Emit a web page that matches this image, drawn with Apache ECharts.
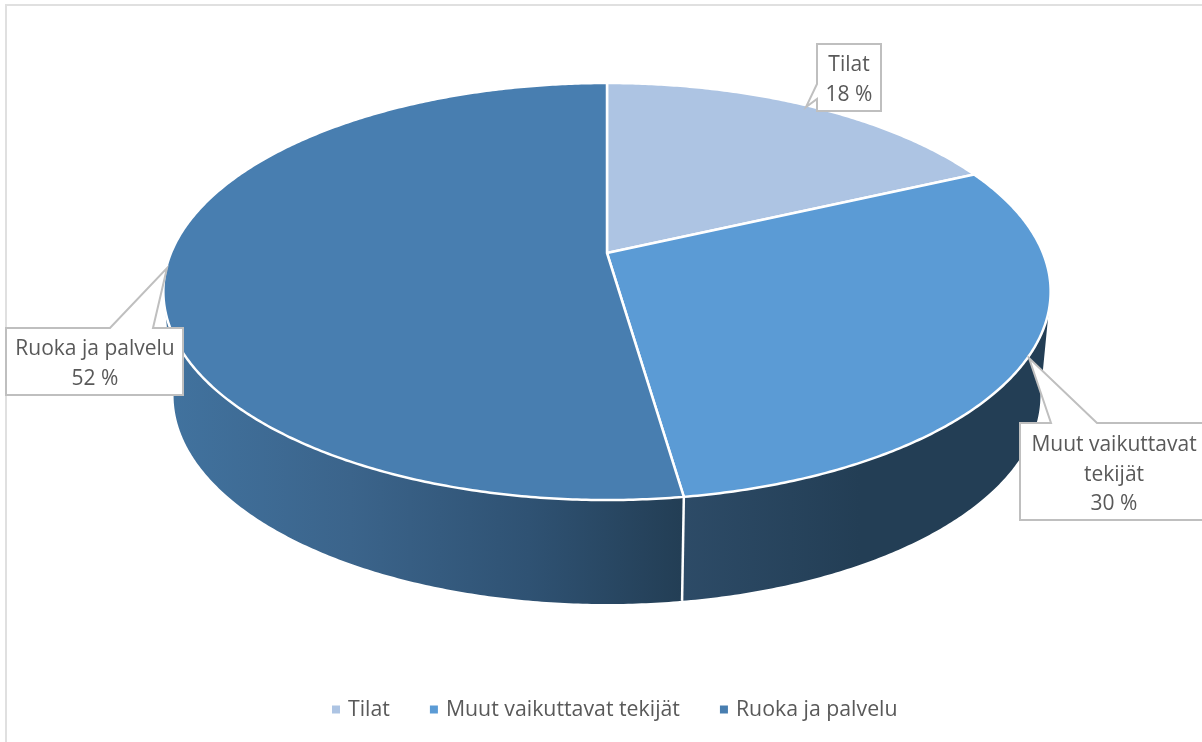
<!DOCTYPE html>
<html>
<head>
<meta charset="utf-8">
<style>html,body{margin:0;padding:0;background:#fff}#c{width:1202px;height:742px}</style>
<script src="https://cdn.jsdelivr.net/npm/echarts@6/dist/echarts.min.js"></script>
</head>
<body>
<div id="c"></div>
<script>
var categories = ['Tilat', 'Muut vaikuttavat tekijät', 'Ruoka ja palvelu'];
var labelLines = ['Tilat', 'Muut vaikuttavat\ntekijät', 'Ruoka ja palvelu'];
var values = [18.1, 29.6, 52.3];
var percentLabels = ['18 %', '30 %', '52 %'];
var topColors = ['#adc4e3', '#5b9bd5', '#487eb0'];

var view = {cx: 607, cy: 253, a: 436, b: 201.4, k: 0.1847, depth: 104, rimScale: 0.977};
view.front0 = 90 + Math.asin(view.k) * 180 / Math.PI;
view.front1 = 360 - view.front0;
var callouts = [
  {pts: [[817,44],[881,44],[881,111],[817,111],[817,99],[806,107],[817,84]], tx: 849, ty: 80},
  {pts: [[1020,423],[1051,423],[1029,358],[1097,423],[1215,423],[1215,520],[1020,520]], tx: 1114, ty: 475},
  {pts: [[6,328],[110,328],[167,268],[153,328],[183,328],[183,395],[6,395]], tx: 95, ty: 364}
];
var total = values.reduce(function (s, v) { return s + v; }, 0);

function project(deg, scale, drop) {
  var r = deg * Math.PI / 180, X = Math.sin(r), Y = Math.cos(r), w = 1 + view.k * Y;
  return [view.cx + scale * view.a * X / w, view.cy - view.b * Y / w + drop];
}
function arc(d0, d1, scale, drop) {
  var pts = [], n = Math.max(2, Math.ceil(Math.abs(d1 - d0) * 2));
  for (var i = 0; i <= n; i++) pts.push(project(d0 + (d1 - d0) * i / n, scale, drop));
  return pts;
}
function wallFill(i) {
  if (i === 2) {
    return new echarts.graphic.LinearGradient(173, 0, 681, 0, [
      {offset: 0, color: '#41729e'}, {offset: 0.35, color: '#3b648b'},
      {offset: 0.7, color: '#2f5273'}, {offset: 1, color: '#233e55'}], true);
  }
  return new echarts.graphic.LinearGradient(683, 0, 860, 0, [
    {offset: 0, color: '#2d4b67'}, {offset: 1, color: '#233e55'}], true);
}

function makeRender(i) {
  return function (params, api) {
    var before = 0;
    for (var j = 0; j < i; j++) before += values[j];
    var d0 = before / total * 360, d1 = d0 + api.value(0) / total * 360;
    var kids = [];
    var f0 = Math.max(d0, view.front0), f1 = Math.min(d1, view.front1);
    if (f1 > f0) {
      var top = arc(f0, f1, 1, 0), bottom = arc(f1, f0, view.rimScale, view.depth);
      kids.push({type: 'polygon', z2: 1, shape: {points: top.concat(bottom)}, style: {fill: wallFill(i)}});
    }
    if (d1 < view.front1 && d1 > view.front0) {
      kids.push({type: 'line', z2: 2,
        shape: {x1: project(d1, 1, 0)[0], y1: project(d1, 1, 0)[1], x2: project(d1, view.rimScale, view.depth)[0], y2: project(d1, view.rimScale, view.depth)[1]},
        style: {stroke: '#ffffff', lineWidth: 2.5}});
    }
    kids.push({type: 'polygon', z2: 5, shape: {points: [[view.cx, view.cy]].concat(arc(d0, d1, 1, 0))},
      style: {fill: topColors[i], stroke: '#ffffff', lineWidth: 2.5, lineJoin: 'round'}});
    kids.push({type: 'polygon', z2: 10, shape: {points: callouts[i].pts},
      style: {fill: '#ffffff', stroke: '#bfbfbf', lineWidth: 2}});
    kids.push({type: 'text', z2: 11, style: {
      text: labelLines[i] + '\n' + percentLabels[i],
      x: callouts[i].tx, y: callouts[i].ty, align: 'center', verticalAlign: 'middle',
      font: '21px "Open Sans"', lineHeight: 29.5, fill: '#595959'}});
    return {type: 'group', children: kids};
  };
}

var chart = echarts.init(document.getElementById('c'), null, {renderer: 'canvas'});
chart.setOption({
  animation: false,
  backgroundColor: '#ffffff',
  legend: {
    data: categories, left: 327, top: 694, icon: 'rect', itemWidth: 8, itemHeight: 8,
    itemGap: 40, selectedMode: false,
    textStyle: {fontFamily: '"Open Sans"', fontSize: 21.3, color: '#595959', padding: [0, 0, 0, 3]}
  },
  graphic: [
    {type: 'line', shape: {x1: 5, y1: 5, x2: 1202, y2: 5}, style: {stroke: '#e0e0e0', lineWidth: 2}},
    {type: 'line', shape: {x1: 6, y1: 5, x2: 6, y2: 742}, style: {stroke: '#e0e0e0', lineWidth: 2}}
  ],
  series: categories.map(function (name, i) {
    return {
      type: 'custom', name: name, coordinateSystem: 'none', silent: true,
      itemStyle: {color: topColors[i]}, data: [[values[i]]], renderItem: makeRender(i)
    };
  })
});
</script>
</body>
</html>
